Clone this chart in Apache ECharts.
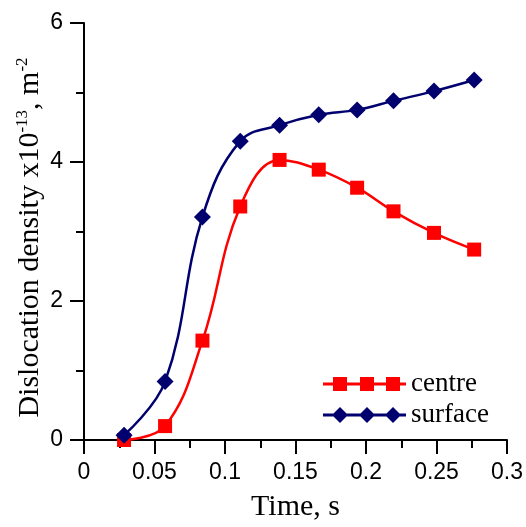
<!DOCTYPE html>
<html>
<head>
<meta charset="utf-8">
<script src="https://cdn.jsdelivr.net/npm/echarts@6/dist/echarts.min.js"></script>
<style>
  html, body { margin: 0; padding: 0; background: #fff; }
  #chart { width: 526px; height: 527px; }
</style>
</head>
<body>
<div id="chart"></div>
<script>
// Sampling times (s) and dislocation density (x10^-13 m^-2)
const times = [0.0284, 0.0575, 0.0840, 0.1108, 0.1387, 0.1665, 0.1937, 0.2195, 0.2482, 0.2767];
const centreValues = [0.00, 0.20, 1.43, 3.36, 4.03, 3.89, 3.63, 3.29, 2.98, 2.74];
const surfaceValues = [0.07, 0.84, 3.21, 4.30, 4.53, 4.68, 4.75, 4.88, 5.02, 5.18];
const seriesNames = ['centre', 'surface'];
const xTicks = { min: 0, max: 0.3, step: 0.05 };
const yTicks = { min: 0, max: 6, step: 2 };

const RED = '#ff0000';
const NAVY = '#00006e';

function pairs(xs, ys) {
  return xs.map((x, i) => [x, ys[i]]);
}

// Legend icons: a line with three markers on it
const squareIcon = 'path://M0 5.5L83 5.5L83 8.5L0 8.5Z' +
  'M10 0L24 0L24 14L10 14Z' +
  'M37 0L51 0L51 14L37 14Z' +
  'M63 0L77 0L77 14L63 14Z';
const diamondIcon = 'path://M0 6.5L83 6.5L83 9.5L0 9.5Z' +
  'M9 8L17 0L25 8L17 16Z' +
  'M36 8L44 0L52 8L44 16Z' +
  'M62 8L70 0L78 8L70 16Z';

const axisCommon = {
  axisLine: { show: true, onZero: false, lineStyle: { color: '#000', width: 2 } },
  axisTick: { show: true, inside: false, length: 14, lineStyle: { color: '#000', width: 2 } },
  minorTick: { show: true, splitNumber: 2, length: 8, lineStyle: { color: '#000', width: 2 } },
  splitLine: { show: false },
  axisLabel: { color: '#000', fontFamily: 'Liberation Sans', fontSize: 23, margin: 21 }
};

const legendText = { color: '#000', fontFamily: 'Liberation Serif', fontSize: 27, lineHeight: 28 };

const chart = echarts.init(document.getElementById('chart'), null, { renderer: 'canvas' });
chart.setOption({
  animation: false,
  backgroundColor: '#fff',
  grid: { left: 84, right: 17, top: 23, bottom: 82, containLabel: false },
  legend: [
    {
      data: [{ name: seriesNames[0], icon: squareIcon }],
      left: 318, top: 365,
      itemWidth: 83, itemHeight: 14,
      itemStyle: { borderWidth: 0 },
      textStyle: legendText,
      selectedMode: false
    },
    {
      data: [{ name: seriesNames[1], icon: diamondIcon }],
      left: 318, top: 396,
      itemWidth: 83, itemHeight: 16,
      itemStyle: { borderWidth: 0 },
      textStyle: legendText,
      selectedMode: false
    }
  ],
  xAxis: Object.assign({}, axisCommon, {
    type: 'value',
    min: xTicks.min, max: xTicks.max, interval: xTicks.step,
    name: 'Time, s',
    nameLocation: 'middle',
    nameGap: 52,
    nameMoveOverlap: false,
    nameTextStyle: { color: '#000', fontFamily: 'Liberation Serif', fontSize: 30 },
    axisLabel: Object.assign({}, axisCommon.axisLabel, {
      formatter: v => String(Number(v.toFixed(2)))
    })
  }),
  yAxis: Object.assign({}, axisCommon, {
    type: 'value',
    min: yTicks.min, max: yTicks.max, interval: yTicks.step,
    name: '{a|Dislocation density x10}{s|-13}{a|, m}{s|-2}',
    nameLocation: 'middle',
    nameGap: 37,
    nameMoveOverlap: false,
    nameTextStyle: {
      color: '#000',
      padding: [0, 12, 0, 0],
      rich: {
        a: { fontFamily: 'Liberation Serif', fontSize: 30, lineHeight: 33, color: '#000' },
        s: { fontFamily: 'Liberation Serif', fontSize: 17, lineHeight: 33, verticalAlign: 'top', color: '#000' }
      }
    }
  }),
  series: [
    {
      name: seriesNames[0],
      type: 'line',
      data: pairs(times, centreValues),
      smooth: 0.4,
      clip: false,
      symbol: 'rect',
      symbolSize: 14,
      color: RED,
      lineStyle: { color: RED, width: 2.5 },
      itemStyle: { color: RED, borderWidth: 0 }
    },
    {
      name: seriesNames[1],
      type: 'line',
      data: pairs(times, surfaceValues),
      smooth: 0.4,
      clip: false,
      symbol: 'diamond',
      symbolSize: 17,
      color: NAVY,
      lineStyle: { color: NAVY, width: 2.5 },
      itemStyle: { color: NAVY, borderWidth: 0 }
    }
  ]
});
</script>
</body>
</html>
